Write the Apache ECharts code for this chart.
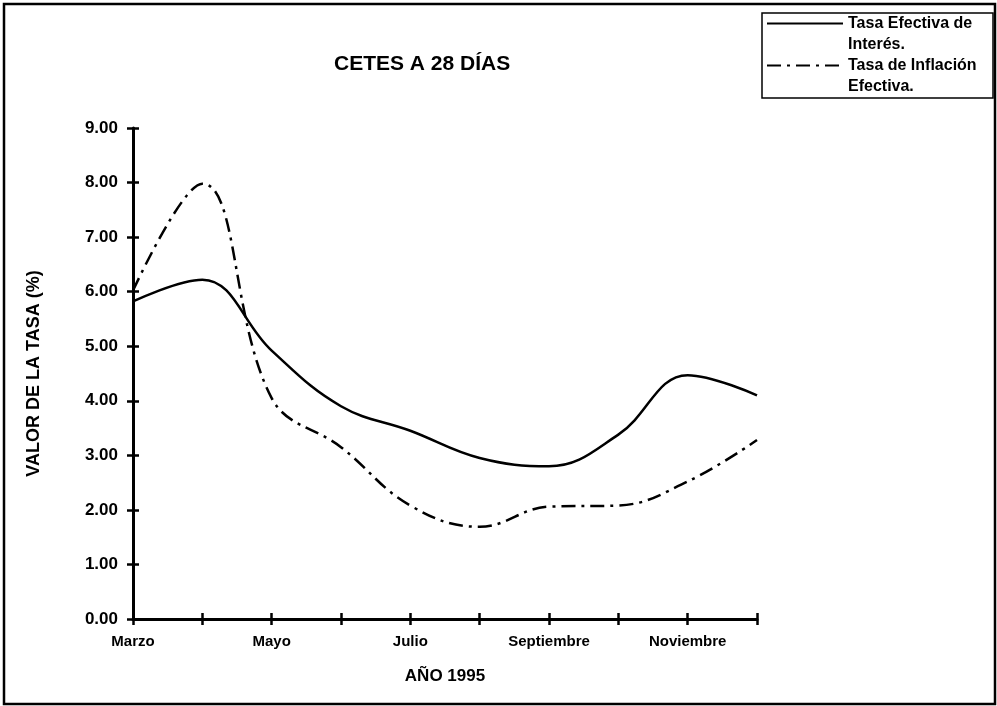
<!DOCTYPE html>
<html>
<head>
<meta charset="utf-8">
<title>CETES A 28 DÍAS</title>
<script src="https://cdn.jsdelivr.net/npm/echarts@6/dist/echarts.min.js"></script>
<style>
  html, body { margin: 0; padding: 0; background: #fff; }
  #main { width: 997px; height: 706px; }
</style>
</head>
<body>
<div id="main"></div>
<script>
// datos (% mensual, 1995)
const meses = ["Marzo", "Abril", "Mayo", "Junio", "Julio", "Agosto",
  "Septiembre", "Octubre", "Noviembre", "Diciembre"];
const tasaInteres = [5.82, 6.22, 4.92, 3.9, 3.45, 2.95, 2.8, 3.38, 4.47, 4.1];
const tasaInflacion = [6.02, 7.98, 4.05, 3.15, 2.08, 1.69, 2.06, 2.08, 2.52, 3.28];
const nombres = ["Tasa Efectiva de Interés.", "Tasa de Inflación Efectiva."];
// la linea vacia al inicio deja el icono a la altura del primer renglon
const etiquetasLeyenda = {
  "Tasa Efectiva de Interés.": "\nTasa Efectiva de\nInterés.",
  "Tasa de Inflación Efectiva.": "\nTasa de Inflación\nEfectiva."
};

const fuente = "'Liberation Sans', Arial, sans-serif";

const chart = echarts.init(document.getElementById('main'));

const option = {
  backgroundColor: '#fff',
  animation: false,
  textStyle: { fontFamily: fuente, color: '#000' },
  title: {
    text: 'CETES A 28 DÍAS',
    left: 329,
    top: 49,
    textStyle: { fontFamily: fuente, fontSize: 21, fontWeight: 'bold', color: '#000' }
  },
  grid: { left: 133, right: 240, top: 128, bottom: 87, containLabel: false },
  legend: {
    orient: 'vertical',
    left: 766,
    top: -8,
    padding: 0,
    itemWidth: 76,
    itemHeight: 14,
    itemGap: -21,
    data: nombres,
    itemStyle: { opacity: 0 },
    formatter: function (n) { return etiquetasLeyenda[n]; },
    textStyle: {
      fontFamily: fuente, fontSize: 16, fontWeight: 'bold', color: '#000',
      lineHeight: 21
    }
  },
  xAxis: [
    {
      type: 'category',
      data: meses,
      boundaryGap: false,
      name: 'AÑO 1995',
      nameLocation: 'middle',
      nameGap: 49,
      nameTextStyle: { fontFamily: fuente, fontSize: 17, fontWeight: 'bold', color: '#000' },
      axisLine: { lineStyle: { color: '#000', width: 3 } },
      axisTick: { show: true, interval: 0, length: 6, lineStyle: { color: '#000', width: 2.5 } },
      axisLabel: { interval: 1, margin: 15, fontFamily: fuente, fontSize: 15, fontWeight: 'bold', color: '#000' },
      splitLine: { show: false }
    },
    {
      type: 'category',
      data: meses,
      boundaryGap: false,
      position: 'bottom',
      axisLine: { show: false },
      axisTick: { show: true, inside: true, interval: 0, length: 6, lineStyle: { color: '#000', width: 2.5 } },
      axisLabel: { show: false },
      splitLine: { show: false }
    }
  ],
  yAxis: [
    {
      type: 'value',
      min: 0,
      max: 9,
      interval: 1,
      name: 'VALOR DE LA TASA (%)',
      nameLocation: 'middle',
      nameRotate: 90,
      nameGap: 90,
      nameTextStyle: { fontFamily: fuente, fontSize: 18, fontWeight: 'bold', color: '#000' },
      axisLine: { show: true, lineStyle: { color: '#000', width: 3 } },
      axisTick: { show: true, length: 6, lineStyle: { color: '#000', width: 2.5 } },
      axisLabel: {
        margin: 15, fontFamily: fuente, fontSize: 17, fontWeight: 'bold', color: '#000',
        formatter: function (v) { return v.toFixed(2); }
      },
      splitLine: { show: false }
    },
    {
      type: 'value',
      min: 0,
      max: 9,
      interval: 1,
      position: 'left',
      axisLine: { show: false },
      axisTick: { show: true, inside: true, length: 6, lineStyle: { color: '#000', width: 2.5 } },
      axisLabel: { show: false },
      splitLine: { show: false }
    }
  ],
  series: [
    {
      name: nombres[0],
      type: 'line',
      data: tasaInteres,
      smooth: 0.4,
      symbol: 'none',
      lineStyle: { color: '#000', width: 2.5, type: 'solid' },
      itemStyle: { color: '#000' }
    },
    {
      name: nombres[1],
      type: 'line',
      data: tasaInflacion,
      smooth: 0.4,
      symbol: 'none',
      lineStyle: { color: '#000', width: 2.5, type: [14, 6, 3, 6] },
      itemStyle: { color: '#000' }
    }
  ],
  graphic: [
    {
      type: 'rect',
      shape: { x: 4, y: 4, width: 991, height: 700 },
      style: { fill: 'none', stroke: '#000', lineWidth: 2.5 },
      silent: true
    },
    {
      type: 'rect',
      shape: { x: 762, y: 13, width: 231, height: 85 },
      style: { fill: 'none', stroke: '#000', lineWidth: 1.5 },
      silent: true
    }
  ]
};

chart.setOption(option);

window.addEventListener('resize', () => {
  chart.resize();
});
</script>
</body>
</html>
